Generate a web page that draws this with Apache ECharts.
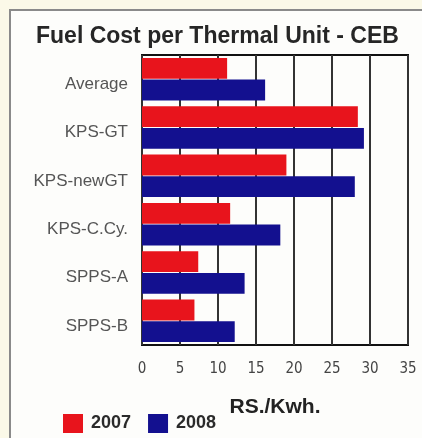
<!DOCTYPE html>
<html>
<head>
    <meta charset="utf-8">
    <title>Fuel Cost per Thermal Unit</title>
    <script src="https://cdn.jsdelivr.net/npm/echarts@6/dist/echarts.min.js"></script>
    <style>
        html, body, #main {
            width: 100%;
            height: 100%;
            margin: 0;
            background: #fbf9e8;
        }
    </style>
</head>
<body>
    <div id="main"></div>
    <script type="text/javascript">
        // data (top to bottom)
        var units = ['Average', 'KPS-GT', 'KPS-newGT', 'KPS-C.Cy.', 'SPPS-A', 'SPPS-B'];
        var cost2007 = [11.2, 28.4, 19.0, 11.6, 7.4, 6.9];
        var cost2008 = [16.2, 29.2, 28.0, 18.2, 13.5, 12.2];
        var xTicks = [0, 5, 10, 15, 20, 25, 30, 35];

        var myChart = echarts.init(document.getElementById('main'));
        var option = {
            animation: false,
            backgroundColor: '#fbf9e8',
            graphic: [{
                type: 'rect',
                shape: { x: 10, y: 10, width: 430, height: 440 },
                style: { fill: '#fdfdfb', stroke: '#8a8a8a', lineWidth: 2 },
                z: -10
            }],
            title: {
                text: 'Fuel Cost per Thermal Unit - CEB',
                left: 31,
                top: 20,
                textStyle: {
                    fontFamily: 'Liberation Sans',
                    fontSize: 23,
                    fontWeight: 'bold',
                    color: '#262626'
                }
            },
            legend: {
                left: 58,
                top: 409,
                itemWidth: 20,
                itemHeight: 19,
                itemGap: 17,
                icon: 'rect',
                textStyle: {
                    fontFamily: 'Liberation Sans',
                    fontSize: 18,
                    fontWeight: 'bold',
                    color: '#2a2a2a',
                    padding: [0, 0, 0, 3]
                },
                data: ['2007', '2008']
            },
            grid: {
                left: 142,
                top: 55,
                width: 266,
                height: 290,
                show: true,
                borderColor: '#111',
                borderWidth: 2,
                containLabel: false
            },
            xAxis: {
                type: 'value',
                min: 0,
                max: 35,
                interval: 5,
                name: 'RS./Kwh.',
                nameLocation: 'middle',
                nameGap: 52,
                nameTextStyle: {
                    fontFamily: 'Liberation Sans',
                    fontSize: 21,
                    fontWeight: 'bold',
                    color: '#222'
                },
                axisLine: { show: false },
                axisTick: { show: false },
                axisLabel: {
                    margin: 17,
                    fontFamily: 'DejaVu Sans Condensed',
                    fontSize: 15,
                    color: '#444',
                    formatter: function (v) {
                        return xTicks.indexOf(v) >= 0 ? String(v) : '';
                    }
                },
                splitLine: { lineStyle: { color: '#333', width: 2 } }
            },
            yAxis: {
                type: 'category',
                data: units,
                inverse: true,
                axisLine: { show: false },
                axisTick: { show: false },
                axisLabel: {
                    margin: 14,
                    verticalAlign: 'top',
                    lineHeight: 10,
                    fontFamily: 'Liberation Sans',
                    fontSize: 17,
                    color: '#555'
                }
            },
            series: [{
                name: '2007',
                type: 'bar',
                data: cost2007,
                barGap: '4%',
                barCategoryGap: '12%',
                itemStyle: { color: '#e8141c' }
            }, {
                name: '2008',
                type: 'bar',
                data: cost2008,
                itemStyle: { color: '#13108f' }
            }]
        };
        myChart.setOption(option, true);
    </script>
</body>
</html>
